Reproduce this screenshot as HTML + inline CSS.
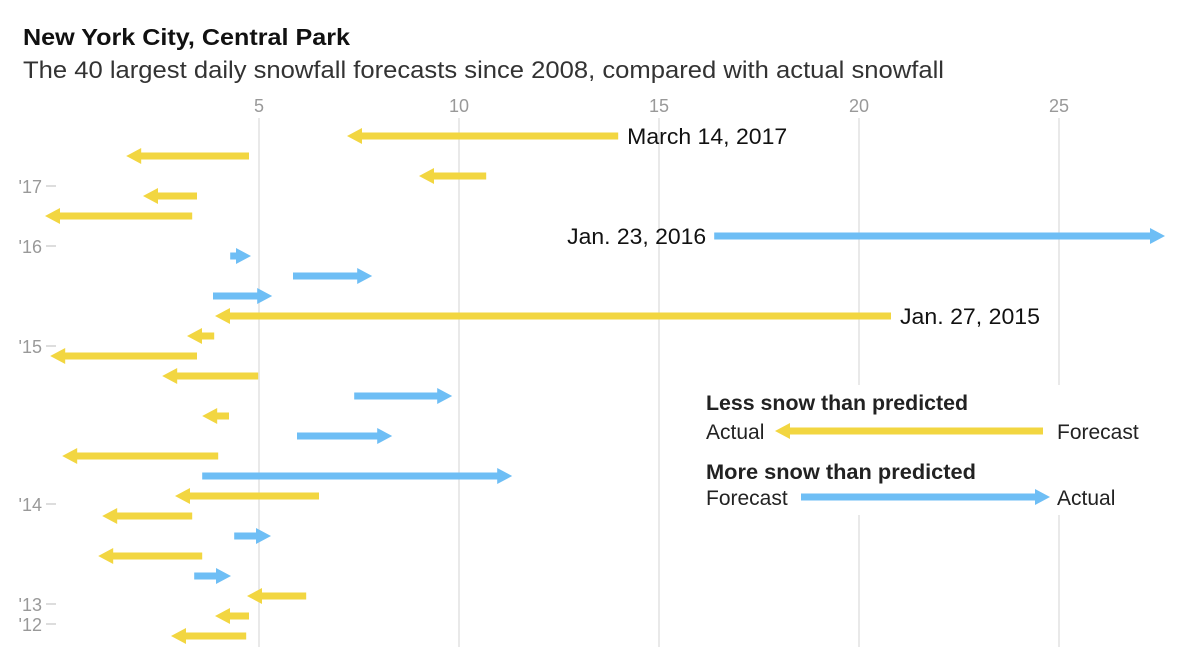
<!DOCTYPE html>
<html><head><meta charset="utf-8"><style>
html,body{margin:0;padding:0;background:#fff;width:1199px;height:647px;overflow:hidden;font-family:"Liberation Sans",sans-serif}
svg{display:block}
</style></head><body>
<svg id="chart" width="1199" height="647">
<text x="23" y="45" font-size="23" font-weight="bold" fill="#111" textLength="327" lengthAdjust="spacingAndGlyphs">New York City, Central Park</text>
<text x="23" y="78" font-size="24" fill="#333" textLength="921" lengthAdjust="spacingAndGlyphs">The 40 largest daily snowfall forecasts since 2008, compared with actual snowfall</text>
<g id="grid"></g><g id="ticks"></g><g id="legendbg"></g><g id="arrows"></g><g id="notes"></g><g id="legend"></g>
</svg>
<script>
const xTicks=[5,10,15,20,25];
const forecast=[13.98,4.75,10.68,3.45,3.33,16.38,4.28,5.85,3.85,20.8,3.88,3.45,4.98,7.38,4.25,5.95,3.98,3.58,6.5,3.33,4.38,3.58,3.38,6.18,4.75,4.68];
const actual=[7.55,2.03,9.35,2.45,0,27.3,4.45,7.48,4.98,4.25,3.55,0.13,2.93,9.48,3.93,7.98,0.43,10.98,3.25,1.43,4.95,1.33,3.95,5.05,4.25,3.15];
const yearLabels=["'17","'16","'15","'14","'13","'12"];
const yearRows=[2.5,5.5,10.5,18.4,23.4,24.4];
const noteRows=[0,5,9];
const noteText=["March 14, 2017","Jan. 23, 2016","Jan. 27, 2015"];
const noteLen=[160,139,140];
const NS="http://www.w3.org/2000/svg";
const x=v=>59+40*v, y=i=>136+20*i;
const YEL="#f2d641",BLU="#6ebef5";
function mk(tag,attrs,parent,text){const e=document.createElementNS(NS,tag);for(const k in attrs)e.setAttribute(k,attrs[k]);if(text!=null)e.textContent=text;(typeof parent==='string'?document.getElementById(parent):parent).appendChild(e);return e;}
xTicks.forEach(t=>{
 const l=mk('line',{x1:x(t),x2:x(t),y1:118,y2:647,stroke:'#ddd','stroke-width':1.3},'grid');
 
 
 const tx=mk('text',{x:x(t),y:112,'font-size':18,fill:'#999','text-anchor':'middle'},'grid',String(t));
 
 
});
yearLabels.forEach((lab,i)=>{
 const yy=y(yearRows[i]);
 const l=mk('line',{x1:46,x2:56,y1:yy,y2:yy,stroke:'#bbb','stroke-width':1},'ticks');
 
 
 const t=mk('text',{x:42,y:yy+7,'font-size':18,fill:'#999','text-anchor':'end'},'ticks',lab);
 
 
});
const bg=mk('rect',{x:695,y:385,width:470,height:130,fill:'#fff'},'legendbg');


function arrow(parent,x0,x1,yy,col){
 const g=mk('g',{},parent);
 const dir=x1>=x0?1:-1;
 mk('rect',{x:Math.min(x0,x1),y:yy-3.5,width:Math.abs(x1-x0),height:7,fill:col},g);
 mk('polygon',{points:`${x1-dir*1},${yy-8} ${x1+dir*14},${yy} ${x1-dir*1},${yy+8}`,fill:col},g);
 return g;
}
forecast.forEach((f,i)=>{
 const a=actual[i];
 const g=arrow('arrows',x(f),x(a),y(i),a<f?YEL:BLU);
 
 
});
noteRows.forEach((r,i)=>{
 const f=forecast[r],a=actual[r];
 let t;
 if(a<f) t=mk('text',{x:x(f)+9,y:y(r)+8,'font-size':22,fill:'#111',textLength:noteLen[i],lengthAdjust:'spacingAndGlyphs'},'notes',noteText[i]);
 else t=mk('text',{x:x(f)-8,y:y(r)+8,'font-size':22,fill:'#111','text-anchor':'end',textLength:noteLen[i],lengthAdjust:'spacingAndGlyphs'},'notes',noteText[i]);
 
 
});
let t;
t=mk('text',{x:706,y:410,'font-size':21,'font-weight':'bold',fill:'#222',textLength:262,lengthAdjust:'spacingAndGlyphs'},'legend','Less snow than predicted');


t=mk('text',{x:706,y:439,'font-size':21,fill:'#222'},'legend','Actual');


t=mk('text',{x:1057,y:439,'font-size':21,fill:'#222'},'legend','Forecast');


t=arrow('legend',1043,789,431,YEL);


t=mk('text',{x:706,y:479,'font-size':21,'font-weight':'bold',fill:'#222',textLength:270,lengthAdjust:'spacingAndGlyphs'},'legend','More snow than predicted');


t=mk('text',{x:706,y:505,'font-size':21,fill:'#222'},'legend','Forecast');


t=mk('text',{x:1057,y:505,'font-size':21,fill:'#222'},'legend','Actual');


t=arrow('legend',801,1036,497,BLU);


</script>
</body></html>
